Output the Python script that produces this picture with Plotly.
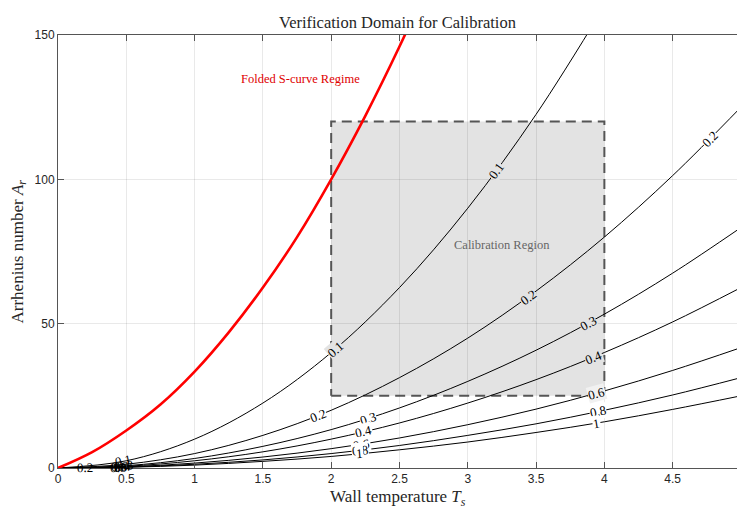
import plotly.graph_objects as go

# ---------------- data ----------------
T_grid = [0, 0.5, 1, 1.5, 2, 2.5, 3, 3.5, 4, 4.5, 5]
A_k01 = [0, 2.5, 10, 22.5, 40, 62.5, 90, 122.5, 160]
A_k02 = [0, 1.3, 5, 11.3, 20, 31.3, 45, 61.3, 80, 101.3, 125]
A_k03 = [0, 0.8, 3.3, 7.5, 13.3, 20.8, 30, 40.8, 53.3, 67.5, 83.3]
A_k04 = [0, 0.6, 2.5, 5.6, 10, 15.6, 22.5, 30.6, 40, 50.6, 62.5]
A_k06 = [0, 0.4, 1.7, 3.8, 6.7, 10.4, 15, 20.4, 26.7, 33.8, 41.7]
A_k08 = [0, 0.3, 1.3, 2.8, 5, 7.8, 11.3, 15.3, 20, 25.3, 31.3]
A_k10 = [0, 0.25, 1, 2.3, 4, 6.3, 9, 12.3, 16, 20.3, 25]
contour_series = [A_k01, A_k02, A_k03, A_k04, A_k06, A_k08, A_k10]

red_T = [0, 0.25, 0.5, 0.75, 1.0, 1.25, 1.5, 1.75, 2.0, 2.25, 2.5, 2.75]
red_A = [0, 5.5, 13, 22, 33.4, 47, 62.5, 80, 100, 122, 146, 172]

box_T = [2, 4]
box_A = [25, 120]

x_ticks = [0, 0.5, 1, 1.5, 2, 2.5, 3, 3.5, 4, 4.5]
x_tick_labels = ["0", "0.5", "1", "1.5", "2", "2.5", "3", "3.5", "4", "4.5"]
y_ticks = [0, 50, 100, 150]
y_tick_labels = ["0", "50", "100", "150"]

# contour labels: text, T, A
label_text = ["0.1", "0.2", "0.3", "0.4", "0.6", "0.8", "1",
              "0.1", "0.1", "0.2", "0.2", "0.2", "0.3", "0.3",
              "0.4", "0.4", "0.6", "0.6", "0.8", "0.8", "1", "1"]
label_T = [0.478, 0.2, 0.49, 0.47, 0.45, 0.44, 0.43,
           2.03, 3.21, 1.906, 3.44, 4.77, 2.27, 3.88,
           2.235, 3.92, 2.22, 3.94, 2.21, 3.95, 2.21, 3.94]
label_A = [2.5, 0.3, 0.9, 0.6, 0.35, 0.25, 0.18,
           41.2, 103.0, 18.2, 59.2, 113.8, 17.2, 50.2,
           12.5, 38.4, 8.2, 25.9, 6.1, 19.5, 4.9, 15.5]

# ---------------- styling ----------------
label_angle = [-11.4, -1, -3.9, -3, -2, -2, -1,
               -40.6, -53.6, -21.9, -36, -45, -17.7, -28.7,
               -13.3, -22.5, -8.9, -15.5, -6.6, -11.8, -5.3, -9.5]
GREY = "#e3e3e3"
label_bg = ["rgba(0,0,0,0)"] * 7 + [GREY, GREY, "white", GREY, "white", "white", GREY,
                                    "white", GREY, "white", "#f1f1f1", "white", "white", "white", "white"]

SERIF = "Liberation Serif, Times New Roman, serif"
SANS = "Liberation Sans, Arial, Helvetica, sans-serif"

fig = go.Figure()

# dashed border of calibration box
fig.add_trace(go.Scatter(
    x=[box_T[0], box_T[1], box_T[1], box_T[0], box_T[0]],
    y=[box_A[0], box_A[0], box_A[1], box_A[1], box_A[0]],
    mode="lines", line=dict(color="#555555", width=2, dash="10px,6px"),
    hoverinfo="skip", showlegend=False))

for A in contour_series:
    fig.add_trace(go.Scatter(
        x=T_grid[:len(A)], y=A, mode="lines",
        line=dict(color="black", width=1, shape="spline"),
        showlegend=False))

fig.add_trace(go.Scatter(
    x=red_T, y=red_A, mode="lines",
    line=dict(color="#ff0000", width=2.6, shape="spline"),
    showlegend=False))

# filled calibration region (below grid)
fig.add_shape(type="rect", x0=box_T[0], x1=box_T[1], y0=box_A[0], y1=box_A[1],
              xref="x", yref="y", fillcolor=GREY, line=dict(width=0), layer="below")

for t, x, y, ang, bg in zip(label_text, label_T, label_A, label_angle, label_bg):
    fig.add_annotation(x=x, y=y, text=t, showarrow=False, textangle=ang,
                       font=dict(family=SERIF, size=13, color="black"),
                       bgcolor=bg, borderpad=0, xanchor="center", yanchor="middle")

fig.add_annotation(x=1.775, y=134.7, text="Folded S-curve Regime", showarrow=False,
                   font=dict(family=SERIF, size=12.5, color="#e00000"))
fig.add_annotation(x=3.254, y=77.1, text="Calibration Region", showarrow=False,
                   font=dict(family=SERIF, size=12.5, color="#666666"))

# axis titles
fig.add_annotation(xref="paper", yref="paper", x=0.5, y=-30 / 433, yanchor="middle",
                   text="Wall temperature <i>T<sub>s</sub></i>", showarrow=False,
                   font=dict(family=SERIF, size=17, color="#262626"))
fig.add_annotation(xref="paper", yref="paper", x=-40 / 679, y=0.5, xanchor="center",
                   text="Arrhenius number <i>A<sub>r</sub></i>", showarrow=False, textangle=-90,
                   font=dict(family=SERIF, size=17, color="#262626"))

fig.update_layout(
    width=737, height=506,
    margin=dict(l=58, r=0, t=35, b=38, autoexpand=False),
    paper_bgcolor="white", plot_bgcolor="white",
    title=dict(text="Verification Domain for Calibration", x=0.5, xref="paper",
               y=1 - 22 / 506, yref="container", yanchor="middle",
               font=dict(family=SERIF, size=16.5, color="#262626")),
    showlegend=False,
    xaxis=dict(range=[0, 4.971], tickvals=x_ticks, ticktext=x_tick_labels,
               automargin=False,
               showgrid=True, gridcolor="rgba(0,0,0,0.085)", gridwidth=1,
               zeroline=False, showline=True, linecolor="#555555", linewidth=1,
               mirror="ticks", ticks="inside", ticklen=6, tickcolor="#555555",
               tickfont=dict(family=SANS, size=12, color="#262626")),
    yaxis=dict(range=[0, 150], tickvals=y_ticks, ticktext=y_tick_labels,
               automargin=False,
               showgrid=True, gridcolor="rgba(0,0,0,0.085)", gridwidth=1,
               zeroline=False, showline=True, linecolor="#555555", linewidth=1,
               mirror=False, ticks="inside", ticklen=6, tickcolor="#555555",
               tickfont=dict(family=SANS, size=12, color="#262626")),
)

fig.write_html("out.html", config={"displayModeBar": False},
               post_script="document.body.style.margin='0';document.body.style.overflow='hidden';")
